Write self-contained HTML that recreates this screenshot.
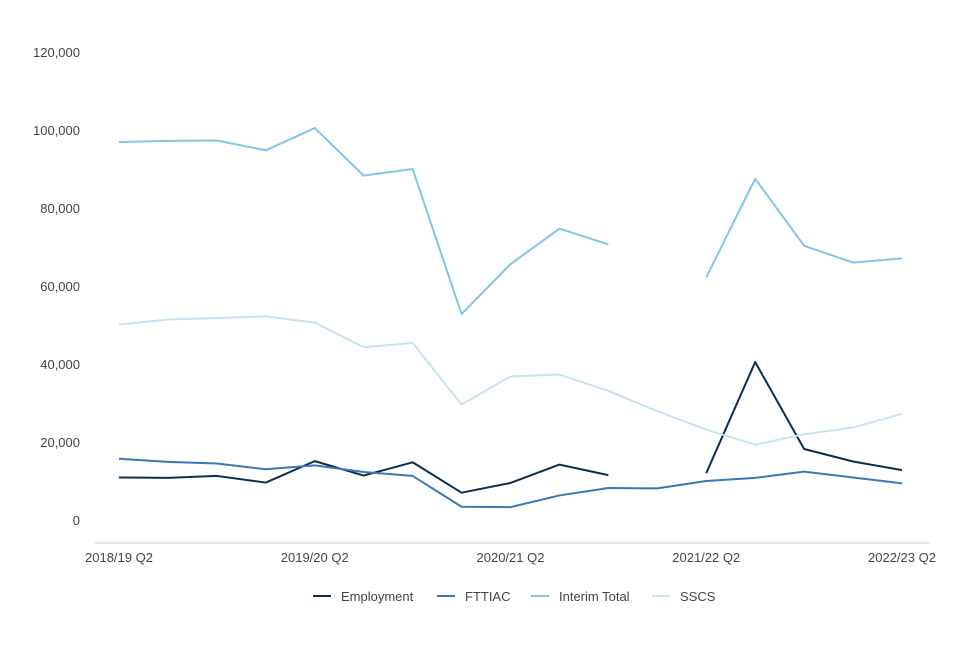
<!DOCTYPE html>
<html><head><meta charset="utf-8"><style>
body{margin:0;background:#fff;font-family:"Liberation Sans",sans-serif;}
svg text{font-family:"Liberation Sans",sans-serif;font-size:13px;fill:#444;}
</style></head><body>
<svg id="chart" width="960" height="640" xmlns="http://www.w3.org/2000/svg"></svg>
<script>
const categories=["2018/19 Q2","2018/19 Q3","2018/19 Q4","2019/20 Q1","2019/20 Q2","2019/20 Q3","2019/20 Q4","2020/21 Q1","2020/21 Q2","2020/21 Q3","2020/21 Q4","2021/22 Q1","2021/22 Q2","2021/22 Q3","2021/22 Q4","2022/23 Q1","2022/23 Q2"];
const employment=[10900,10800,11300,9600,15100,11400,14800,7000,9500,14200,11500,null,12000,40500,18200,15000,12800];
const fttiac=[15700,14900,14500,13000,14000,12300,11300,3400,3300,6300,8200,8100,10000,10800,12400,10900,9400];
const interimTotal=[96900,97200,97300,94800,100500,88300,90000,52800,65600,74700,70700,null,62200,87500,70300,66000,67100];
const sscs=[50100,51400,51800,52200,50600,44300,45400,29600,36800,37300,33100,27900,23200,19300,22000,23700,27200];
const yTicks=[0,20000,40000,60000,80000,100000,120000];
const xTickLabels=["2018/19 Q2","2019/20 Q2","2020/21 Q2","2021/22 Q2","2022/23 Q2"];
const seriesNames=["Employment","FTTIAC","Interim Total","SSCS"];
const colors=["#0b2e50","#3a78b5","#7ec8e3","#c7e3ee"];
const svg=document.getElementById('chart');const NS="http://www.w3.org/2000/svg";
const x=i=>119+i*(902-119)/(categories.length-1);
const y=v=>520-v*(468/120000);
function el(t,a){const e=document.createElementNS(NS,t);for(const k in a)e.setAttribute(k,a[k]);svg.appendChild(e);return e;}
yTicks.forEach(v=>{const t=el('text',{x:80,y:y(v)+5,'text-anchor':'end'});t.textContent=v.toLocaleString('en-US');

});
const ax=el('line',{x1:95,x2:930,y1:543,y2:543,stroke:'#ccc','stroke-width':1});


xTickLabels.forEach(l=>{const i=categories.indexOf(l);const t=el('text',{x:x(i),y:562,'text-anchor':'middle'});t.textContent=l;

});
[employment,fttiac,interimTotal,sscs].forEach((s,si)=>{let d='',pen=false;s.forEach((v,i)=>{if(v==null){pen=false;return;}d+=(pen?'L':'M')+x(i)+' '+y(v)+' ';pen=true;});
const p=el('path',{d:d,fill:'none',stroke:colors[si],'stroke-width':2,'stroke-linejoin':'round'});

});
const lx=[313,437,531,652];
seriesNames.forEach((n,i)=>{const g=el('g',{});


const l=document.createElementNS(NS,'line');l.setAttribute('x1',lx[i]);l.setAttribute('x2',lx[i]+18);l.setAttribute('y1',596);l.setAttribute('y2',596);l.setAttribute('stroke',colors[i]);l.setAttribute('stroke-width',2);g.appendChild(l);
const t=document.createElementNS(NS,'text');t.setAttribute('x',lx[i]+28);t.setAttribute('y',601);t.textContent=n;g.appendChild(t);});
</script>
</body></html>
